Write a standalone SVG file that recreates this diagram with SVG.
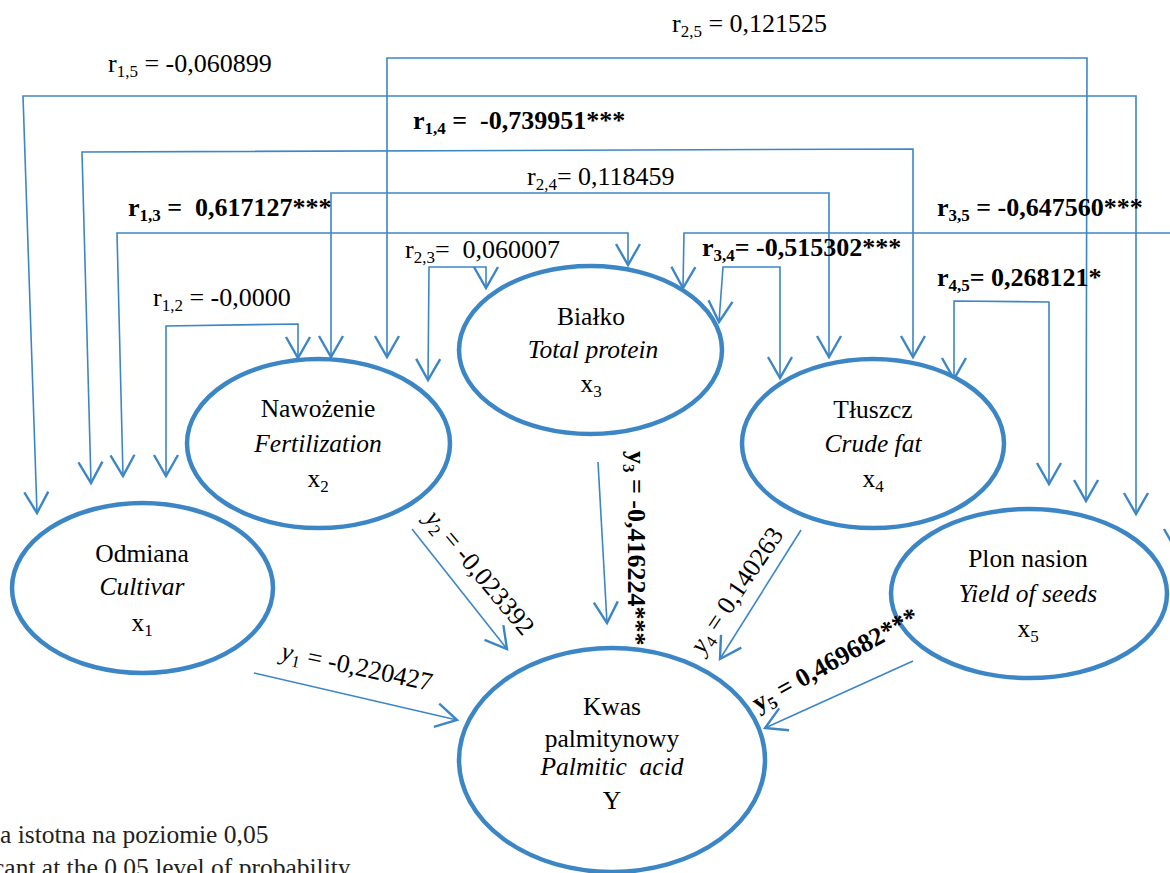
<svg xmlns="http://www.w3.org/2000/svg" width="1170" height="873" viewBox="0 0 1170 873">
<style>
.t{font-family:"Liberation Serif","Times New Roman",serif;font-size:26px;fill:#000;white-space:pre}
.node .t{font-size:25.5px}
.b{font-weight:bold}
.i{font-style:italic}
.m{text-anchor:middle}
.s{font-size:17px}
.node .s{font-size:17px}
.foot{font-family:"Liberation Serif","Times New Roman",serif;font-size:25.5px;fill:#231f20}
.node ellipse{fill:#fff;stroke:#3c86c6;stroke-width:4.5}
.c path{fill:none;stroke:#3c86c6;stroke-width:1.6}
.c .two{marker-start:url(#ah);marker-end:url(#ah)}
.c .one{marker-end:url(#ah)}
</style>
<defs>
<marker id="ah" markerUnits="userSpaceOnUse" markerWidth="30" markerHeight="30" viewBox="-16 -10 18 20" refX="0" refY="0" orient="auto-start-reverse">
<path d="M-14,-8 L0,0 L-14,8" fill="none" stroke="#3c86c6" stroke-width="1.6"/>
</marker>
</defs>
<rect width="1170" height="873" fill="#fff"/>

<g id="connectors" class="c">
<path class="two" d="M37,513 L23,96 L1136,96 L1136,514"/>
<path class="two" d="M387,357 L387,58 L1087,58 L1086,501"/>
<path class="two" d="M91,483 L82,152 L913,149 L913,357"/>
<path class="two" d="M331,357 L331,193 L829,193 L829,357"/>
<path class="two" d="M123,476 L117,233 L628,233 L628,265"/>
<path class="two" d="M683,288 L684,233 L1176,233 L1176,550"/>
<path class="two" d="M719,322 L723,267 L780,267 L780,378"/>
<path class="two" d="M428,380 L429,267 L486,267 L486,288"/>
<path class="two" d="M166,476 L166,326 L298,324 L298,358"/>
<path class="two" d="M954,379 L954,301 L1049,302 L1049,484"/>
<path class="one" d="M254,673 L457,720"/>
<path class="one" d="M412,529 L507,649"/>
<path class="one" d="M598,462 L607,623"/>
<path class="one" d="M801,530 L720,659"/>
<path class="one" d="M913,661 L765,728"/>
</g>

<g id="node-x1" class="node">
<ellipse cx="142.5" cy="588" rx="130.5" ry="85"/>
<text class="t m" x="142" y="562">Odmiana</text>
<text class="t m i" x="142" y="595">Cultivar</text>
<text class="t m" x="142" y="631">x<tspan class="s" dy="5">1</tspan></text>
</g>
<g id="node-x2" class="node">
<ellipse cx="318.5" cy="443.5" rx="131.5" ry="84.5"/>
<text class="t m" x="318" y="417">Nawożenie</text>
<text class="t m i" x="318" y="452">Fertilization</text>
<text class="t m" x="318" y="487">x<tspan class="s" dy="5">2</tspan></text>
</g>
<g id="node-x3" class="node">
<ellipse cx="590.5" cy="350" rx="131.5" ry="84"/>
<text class="t m" x="591" y="325">Białko</text>
<text class="t m i" x="593" y="358">Total protein</text>
<text class="t m" x="591" y="392">x<tspan class="s" dy="5">3</tspan></text>
</g>
<g id="node-x4" class="node">
<ellipse cx="873" cy="443.5" rx="131" ry="84.5"/>
<text class="t m" x="873" y="418">Tłuszcz</text>
<text class="t m i" x="873" y="452">Crude fat</text>
<text class="t m" x="873" y="487">x<tspan class="s" dy="5">4</tspan></text>
</g>
<g id="node-x5" class="node">
<ellipse cx="1029" cy="593.5" rx="138" ry="84.5"/>
<text class="t m" x="1028" y="567">Plon nasion</text>
<text class="t m i" x="1028" y="602">Yield of seeds</text>
<text class="t m" x="1028" y="637">x<tspan class="s" dy="5">5</tspan></text>
</g>
<g id="node-y" class="node">
<ellipse cx="612" cy="760" rx="153" ry="112"/>
<text class="t m" x="612" y="715">Kwas</text>
<text class="t m" x="612" y="747">palmitynowy</text>
<text class="t m i" x="612" y="775">Palmitic  acid</text>
<text class="t m" x="612" y="809">Y</text>
</g>

<g id="labels">
<text class="t" x="672" y="32">r<tspan class="s" dy="5">2,5</tspan><tspan dy="-5"> = 0,121525</tspan></text>
<text class="t" x="108" y="72">r<tspan class="s" dy="5">1,5</tspan><tspan dy="-5"> = -0,060899</tspan></text>
<text class="t b" x="413" y="129">r<tspan class="s" dy="5">1,4</tspan><tspan dy="-5"> =  -0,739951***</tspan></text>
<text class="t" x="527" y="185">r<tspan class="s" dy="5">2,4</tspan><tspan dy="-5">= 0,118459</tspan></text>
<text class="t b" x="128" y="216">r<tspan class="s" dy="5">1,3</tspan><tspan dy="-5"> =  0,617127***</tspan></text>
<text class="t b" x="937" y="216">r<tspan class="s" dy="5">3,5</tspan><tspan dy="-5"> = -0,647560***</tspan></text>
<text class="t" x="405" y="258">r<tspan class="s" dy="5">2,3</tspan><tspan dy="-5">=  0,060007</tspan></text>
<text class="t b" x="702" y="256">r<tspan class="s" dy="5">3,4</tspan><tspan dy="-5">= -0,515302***</tspan></text>
<text class="t b" x="937" y="286">r<tspan class="s" dy="5">4,5</tspan><tspan dy="-5">= 0,268121*</tspan></text>
<text class="t" x="153" y="306">r<tspan class="s" dy="5">1,2</tspan><tspan dy="-5"> = -0,0000</tspan></text>

<text class="t" transform="translate(280,659) rotate(12)"><tspan class="i">y</tspan><tspan class="s" dy="5">1</tspan><tspan dy="-5"> = -0,220427</tspan></text>
<text class="t" transform="translate(424,519) rotate(50)"><tspan class="i">y</tspan><tspan class="s" dy="5">2</tspan><tspan dy="-5"> = -0,023392</tspan></text>
<text class="t b" transform="translate(628,451) rotate(90)">y<tspan class="s" dy="5">3</tspan><tspan dy="-5"> = -0,416224***</tspan></text>
<text class="t" transform="translate(703,655) rotate(-56)"><tspan class="i">y</tspan><tspan class="s" dy="5">4</tspan><tspan dy="-5"> = 0,140263</tspan></text>
<text class="t b" transform="translate(758,712) rotate(-29)">y<tspan class="s" dy="5">5</tspan><tspan dy="-5"> = 0,469682***</tspan></text>

<text class="foot" x="0" y="843">a istotna na poziomie 0,05</text>
<text class="foot" x="-7" y="876">cant at the 0,05 level of probability</text>
</g>
</svg>
